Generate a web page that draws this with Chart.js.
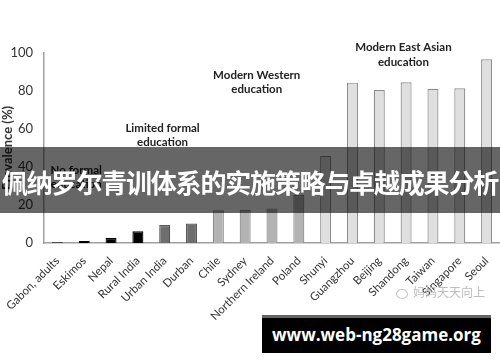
<!DOCTYPE html>
<html>
<head>
<meta charset="utf-8">
<script src="https://cdn.jsdelivr.net/npm/chart.js@4/dist/chart.umd.min.js"></script>
<style>
  html, body { margin: 0; padding: 0; background: #fff; }
  #wrap { position: relative; width: 500px; height: 362px; overflow: hidden; }
  #chart { position: absolute; left: 0; top: 0; }
  .band {
    position: absolute; left: 0; top: 147px; width: 500px; height: 66px;
    background: rgba(0, 0, 0, 0.6);
    color: #fff; font-family: "Noto Sans CJK SC", sans-serif; font-weight: 700;
    font-size: 26px; line-height: 70px; text-align: center; white-space: nowrap;
    letter-spacing: -1.2px;
  }
  .urlbox {
    position: absolute; left: 262px; top: 315px; width: 229px; height: 38px;
    background: #000; border-top: 3px solid #666; box-sizing: border-box;
    color: #fff; font-family: "Open Sans", sans-serif; font-weight: 700;
    font-size: 17px; line-height: 34px; text-align: center; white-space: nowrap;
  }
  .mark {
    position: absolute; left: 396px; top: 283px; color: #bdbdbd;
    font-family: "Noto Sans CJK SC", sans-serif; font-size: 12px; white-space: nowrap;
  }
  .bubble {
    display: inline-block; width: 10px; height: 8px; border: 1.5px solid #c4c4c4;
    border-radius: 50%; margin-right: 5px; vertical-align: middle;
  }
</style>
</head>
<body>
<div id="wrap">
  <canvas id="chart" width="500" height="362"></canvas>
  <div class="mark"><span class="bubble"></span>妈妈天天向上</div>
  <div class="band">佩纳罗尔青训体系的实施策略与卓越成果分析</div>
  <div class="urlbox">www.web-ng28game.org</div>
</div>
<script>
// Populations, ordered as in the figure
const categories = ['Gabon, adults', 'Eskimos', 'Nepal', 'Rural India', 'Urban India', 'Durban',
    'Chile', 'Sydney', 'Northern Ireland', 'Poland', 'Shunyi', 'Guangzhou', 'Beijing',
    'Shandong', 'Taiwan', 'Singapore', 'Seoul'];

// Myopia prevalence (%)
const prevalence = [0.4, 1.0, 2.6, 6.2, 9.5, 10.2, 17.2, 17.4, 18.2, 25.3, 45.8,
    84.4, 80.5, 84.6, 81.2, 81.4, 96.7];

// Education group of each bar (index into groupLabels)
const educationGroup = [0, 0, 0, 0, 1, 1, 2, 2, 2, 2, 3, 3, 3, 3, 3, 3, 3];

const groupLabels = [
    ['No formal', 'education'],
    ['Limited formal', 'education'],
    ['Modern Western', 'education'],
    ['Modern East Asian', 'education']
];
// where each group label sits: [category position, prevalence value]
const groupLabelAt = [[0.7, 38.5], [3.92, 60.5], [7.43, 88.4], [12.9, 103]];

const yTicks = [0, 20, 40, 60, 80, 100];

const groupFill = ['#000000', '#6e6e6e', '#b3b3b3', '#dfdfdf'];
const groupBorder = ['#000000', '#555555', '#8c8c8c', '#8c8c8c'];

// Text labels for each education group, drawn through the scales
const groupLabelPlugin = {
    id: 'groupLabels',
    afterDatasetsDraw(chart) {
        const { ctx, scales } = chart;
        const xAt = (pos) => {
            const i = Math.floor(pos);
            const a = scales.x.getPixelForValue(i);
            const b = scales.x.getPixelForValue(i + 1);
            return a + (b - a) * (pos - i);
        };
        ctx.save();
        ctx.font = 'bold 11.5px Lato, sans-serif';
        ctx.fillStyle = '#222';
        ctx.textAlign = 'center';
        ctx.textBaseline = 'middle';
        groupLabels.forEach((lines, g) => {
            const x = xAt(groupLabelAt[g][0]);
            const y = scales.y.getPixelForValue(groupLabelAt[g][1]);
            lines.forEach((line, k) => ctx.fillText(line, x, y + k * 14.5));
        });
        ctx.restore();
    }
};

new Chart(document.getElementById('chart'), {
    type: 'bar',
    data: {
        labels: categories,
        datasets: [{
            data: prevalence,
            backgroundColor: educationGroup.map(g => groupFill[g]),
            borderColor: educationGroup.map(g => groupBorder[g]),
            borderWidth: 1.2,
            categoryPercentage: 1,
            barPercentage: 0.41
        }]
    },
    options: {
        responsive: false,
        animation: false,
        layout: { padding: { top: 53, right: 0, bottom: 0, left: 0 } },
        plugins: {
            legend: { display: false },
            tooltip: { enabled: false }
        },
        scales: {
            x: {
                grid: { display: false },
                border: { color: '#a0a0a0', width: 1.5 },
                ticks: {
                    minRotation: 45,
                    maxRotation: 45,
                    autoSkip: false,
                    color: '#333',
                    font: { family: 'Lato, sans-serif', size: 11.5 }
                },
                afterFit: (axis) => { axis.height = 119; }
            },
            y: {
                min: 0,
                max: 100,
                grid: { display: false, drawTicks: false },
                border: { color: '#a0a0a0', width: 1.5 },
                afterBuildTicks: (axis) => { axis.ticks = yTicks.map(v => ({ value: v })); },
                ticks: {
                    padding: 11,
                    color: '#333',
                    font: { family: 'Lato, sans-serif', size: 13 }
                },
                title: {
                    display: true,
                    text: 'Prevalence (%)',
                    color: '#333',
                    padding: 0,
                    font: { family: 'Lato, sans-serif', size: 13, weight: 'bold' }
                },
                afterFit: (axis) => { axis.width = 44; }
            }
        }
    },
    plugins: [groupLabelPlugin]
});
</script>
</body>
</html>
